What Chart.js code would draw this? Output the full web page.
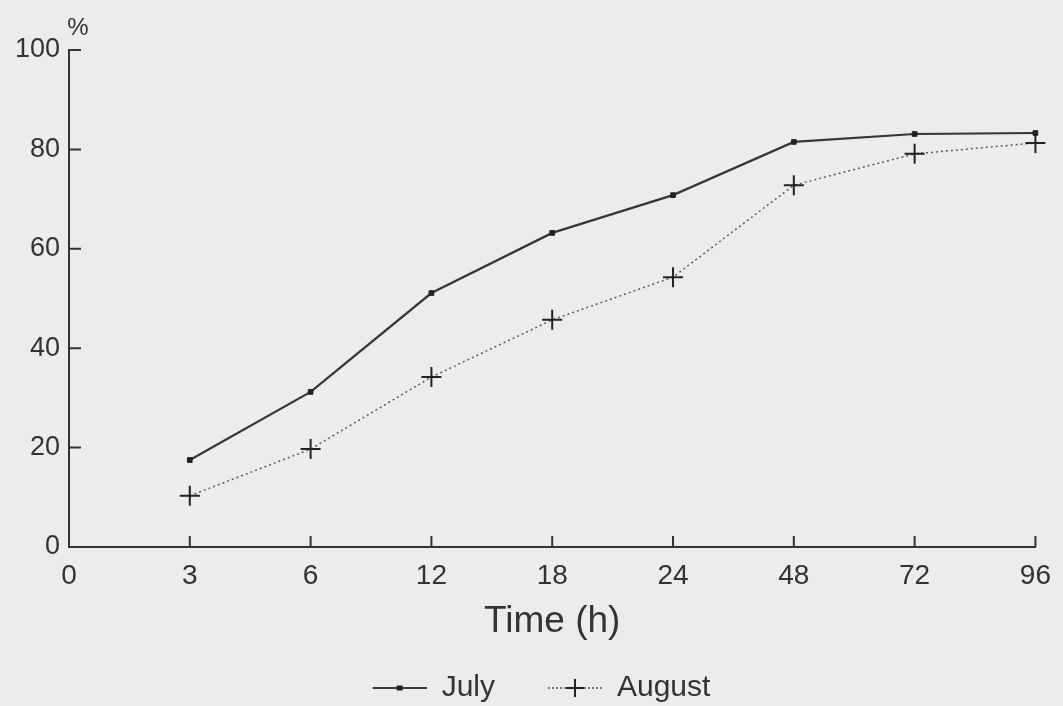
<!DOCTYPE html>
<html>
<head>
<meta charset="utf-8">
<script src="https://cdn.jsdelivr.net/npm/chart.js@4.4.1/dist/chart.umd.min.js"></script>
<style>
  html, body { margin: 0; padding: 0; background: #ececea; overflow: hidden; }
  #wrap { width: 1063px; height: 713px; position: relative; }
</style>
</head>
<body>
<div id="wrap"><canvas id="chart"></canvas></div>
<script>
// ---------- Data ----------
const timeLabels = ["0", "3", "6", "12", "18", "24", "48", "72", "96"];
const julyValues = [null, 17.5, 31.2, 51.1, 63.2, 70.8, 81.5, 83.1, 83.3];
const augustValues = [null, 10.3, 19.7, 34.2, 45.7, 54.3, 72.8, 79.1, 81.3];
const yTicks = [0, 20, 40, 60, 80, 100];

const INK = "#333333";
const FONT = "'Liberation Sans', Arial, sans-serif";
const SAMPLE_W = 95;

// legend sample: line with marker, drawn into a small canvas
function legendSample(dashed, marker) {
  const c = document.createElement("canvas");
  c.width = SAMPLE_W;
  c.height = 22;
  const g = c.getContext("2d");
  const x0 = SAMPLE_W - 54, mid = SAMPLE_W - 27;
  g.strokeStyle = "#3a3a3a";
  g.lineWidth = dashed ? 1.3 : 2;
  g.setLineDash(dashed ? [2, 2] : []);
  g.beginPath();
  g.moveTo(x0, 11);
  g.lineTo(SAMPLE_W, 11);
  g.stroke();
  g.setLineDash([]);
  g.fillStyle = "#222";
  g.strokeStyle = "#222";
  if (marker === "rect") {
    g.fillRect(mid - 3, 8.5, 6, 5);
  } else {
    g.lineWidth = 2;
    g.beginPath();
    g.moveTo(mid, 2); g.lineTo(mid, 20);
    g.moveTo(mid - 9, 11); g.lineTo(mid + 9, 11);
    g.stroke();
  }
  return c;
}

// inward tick marks + "%" unit label
const axisDecor = {
  id: "axisDecor",
  afterDraw(chart) {
    const { ctx, scales } = chart;
    const x = scales.x, y = scales.y;
    ctx.save();
    ctx.strokeStyle = INK;
    ctx.lineWidth = 2;
    ctx.beginPath();
    for (let i = 1; i < timeLabels.length; i++) {
      const px = x.getPixelForTick(i);
      ctx.moveTo(px, y.bottom);
      ctx.lineTo(px, y.bottom - 11);
    }
    for (const v of yTicks) {
      if (v === 0) continue;
      const py = y.getPixelForValue(v);
      ctx.moveTo(x.left, py);
      ctx.lineTo(x.left + 12, py);
    }
    ctx.stroke();
    ctx.fillStyle = INK;
    ctx.font = "24px " + FONT;
    ctx.textAlign = "center";
    ctx.textBaseline = "middle";
    ctx.fillText("%", x.left + 9, y.top - 22);
    ctx.restore();
  },
};

new Chart(document.getElementById("chart"), {
  type: "line",
  data: {
    labels: timeLabels,
    datasets: [
      {
        label: "July",
        data: julyValues,
        borderColor: "#363636",
        borderWidth: 2.2,
        pointStyle: "rect",
        pointRadius: 3.3,
        pointBackgroundColor: "#222",
        pointBorderColor: "#222",
        pointBorderWidth: 1,
        tension: 0,
        clip: false,
      },
      {
        label: "August",
        data: augustValues,
        borderColor: "#5a5a5a",
        borderWidth: 1.5,
        borderDash: [2, 3],
        pointStyle: "cross",
        pointRadius: 10,
        pointBorderColor: "#222",
        pointBorderWidth: 2,
        tension: 0,
        clip: false,
      },
    ],
  },
  options: {
    responsive: true,
    maintainAspectRatio: false,
    animation: false,
    layout: { padding: { top: 50, right: 21, left: 0, bottom: 0 } },
    plugins: {
      tooltip: { enabled: false },
      legend: {
        position: "bottom",
        labels: {
          usePointStyle: true,
          pointStyleWidth: SAMPLE_W,
          padding: 12,
          color: INK,
          font: { family: FONT, size: 30 },
          generateLabels(chart) {
            return chart.data.datasets.map((ds, i) => ({
              text: ds.label,
              pointStyle: legendSample(i === 1, i === 0 ? "rect" : "cross"),
              fillStyle: "transparent",
              strokeStyle: "transparent",
              lineWidth: 0,
              fontColor: INK,
              datasetIndex: i,
            }));
          },
        },
      },
    },
    scales: {
      x: {
        type: "category",
        offset: false,
        grid: { display: false, drawTicks: false },
        border: { display: true, color: INK, width: 2 },
        ticks: { color: INK, padding: 12, font: { family: FONT, size: 28 }, autoSkip: false, maxRotation: 0 },
        title: {
          display: true,
          text: "Time (h)",
          color: INK,
          font: { family: FONT, size: 37 },
          padding: { top: 0, bottom: 17 },
        },
        afterFit(scale) { scale.height = 114; },
      },
      y: {
        min: 0,
        max: 100,
        grid: { display: false, drawTicks: false },
        border: { display: true, color: INK, width: 2 },
        ticks: { color: INK, padding: 9, font: { family: FONT, size: 27 } },
        afterBuildTicks(scale) { scale.ticks = yTicks.map((v) => ({ value: v })); },
        afterFit(scale) { scale.width = 69; },
      },
    },
  },
  plugins: [axisDecor],
});
</script>
</body>
</html>
